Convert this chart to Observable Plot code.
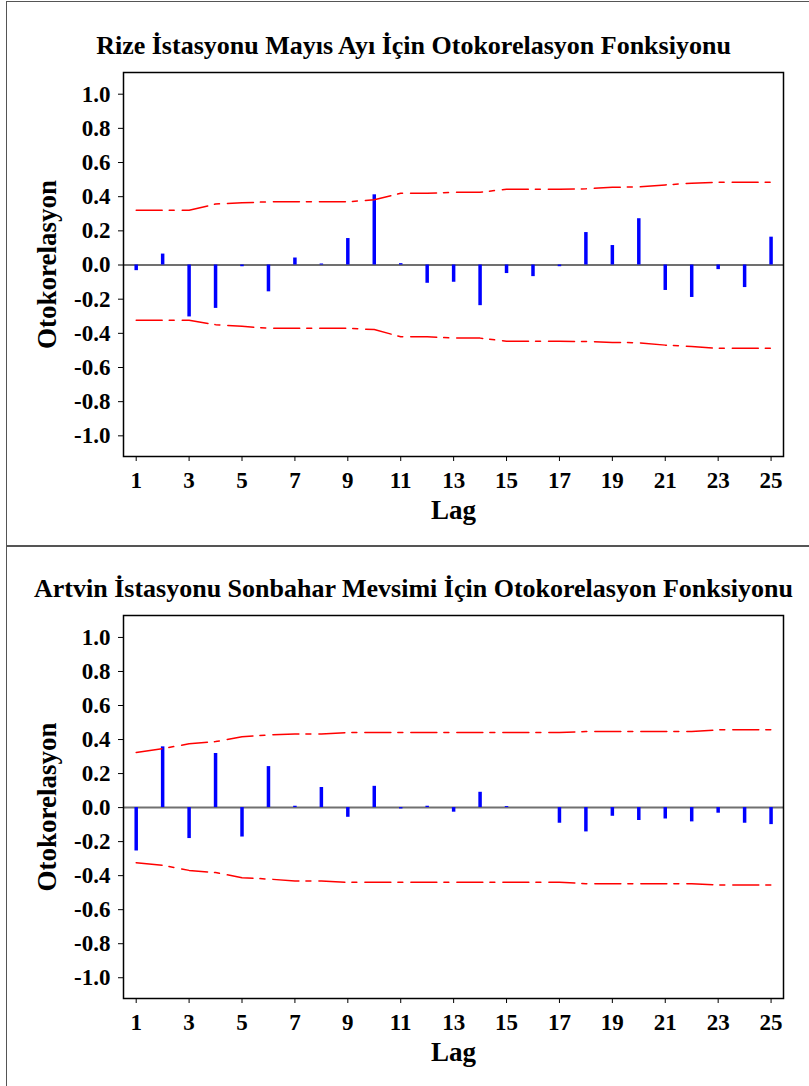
<!DOCTYPE html>
<html>
<head>
<meta charset="utf-8">
<script src="https://cdn.jsdelivr.net/npm/d3@7"></script>
<script src="https://cdn.jsdelivr.net/npm/@observablehq/plot@0.6"></script>
<style>
  html, body { margin: 0; padding: 0; background: #fff; overflow: hidden; }
  #page { position: relative; width: 809px; height: 1086px; }
  .panel { position: absolute; left: 0; width: 809px; }
  .box { position: absolute; border: 1.5px solid #555; pointer-events: none; }
  svg text { font-family: 'Liberation Serif', 'Times New Roman', serif; }
  svg g[aria-label="x-axis tick label"] text,
  svg g[aria-label="y-axis tick label"] text { font-size: 23px !important; font-weight: bold; }
</style>
</head>
<body>
<div id="page">
  <div class="box" style="left:6px; top:1px; width:812px; height:543px;"></div>
  <div class="box" style="left:6px; top:546px; width:812px; height:545px;"></div>
  <div class="panel" id="p1" style="top:2px;"></div>
  <div class="panel" id="p2" style="top:547px;"></div>
</div>
<script>
const lags = [1,2,3,4,5,6,7,8,9,10,11,12,13,14,15,16,17,18,19,20,21,22,23,24,25];
const xTicks = [1,3,5,7,9,11,13,15,17,19,21,23,25];
const yTicks = [-1.0,-0.8,-0.6,-0.4,-0.2,0.0,0.2,0.4,0.6,0.8,1.0];

const rizeTitle = "Rize İstasyonu Mayıs Ayı İçin Otokorelasyon Fonksiyonu";
const rizeAcf = [-0.033, 0.064, -0.304, -0.254, -0.010, -0.157, 0.041, 0.006, 0.155, 0.411, 0.008, -0.107, -0.101, -0.238, -0.050, -0.068, -0.010, 0.190, 0.114, 0.271, -0.149, -0.190, -0.027, -0.132, 0.163];
const rizeUpper = [0.320,0.320,0.320,0.357,0.364,0.370,0.370,0.370,0.370,0.382,0.420,0.420,0.426,0.426,0.444,0.444,0.444,0.446,0.455,0.457,0.469,0.479,0.484,0.484,0.484];
const rizeLower = [-0.324,-0.324,-0.324,-0.349,-0.359,-0.370,-0.370,-0.370,-0.370,-0.378,-0.420,-0.420,-0.428,-0.428,-0.446,-0.446,-0.446,-0.448,-0.453,-0.455,-0.469,-0.477,-0.488,-0.488,-0.488];

const artvinTitle = "Artvin İstasyonu Sonbahar Mevsimi İçin Otokorelasyon Fonksiyonu";
const artvinAcf = [-0.255, 0.357, -0.182, 0.318, -0.173, 0.241, 0.008, 0.118, -0.057, 0.125, -0.008, 0.008, -0.027, 0.090, 0.006, 0.000, -0.092, -0.143, -0.051, -0.076, -0.067, -0.084, -0.033, -0.092, -0.100];
const artvinUpper = [0.324,0.347,0.375,0.388,0.416,0.427,0.433,0.433,0.441,0.441,0.441,0.441,0.441,0.441,0.441,0.441,0.441,0.447,0.447,0.447,0.447,0.447,0.457,0.457,0.457];
const artvinLower = [-0.324,-0.339,-0.369,-0.382,-0.412,-0.420,-0.431,-0.431,-0.439,-0.439,-0.439,-0.439,-0.439,-0.439,-0.439,-0.439,-0.439,-0.447,-0.447,-0.447,-0.447,-0.447,-0.455,-0.455,-0.455];

const yLabel = "Otokorelasyon";
const xLabel = "Lag";

function acfChart({title, acf, upper, lower, height, marginTop, marginBottom, yDomain}) {
  const data = lags.map((lag, i) => ({lag, acf: acf[i], upper: upper[i], lower: lower[i]}));
  const dash = "26,7,5,8";
  return Plot.plot({
    width: 809,
    height,
    marginLeft: 123,
    marginRight: 26,
    marginTop,
    marginBottom,
    style: {
      fontFamily: "'Liberation Serif', 'Times New Roman', serif",
      fontWeight: "bold",
      fontSize: "23px",
      color: "black",
      background: "transparent",
      overflow: "visible"
    },
    x: {domain: [0.52, 25.47], ticks: xTicks, tickFormat: d => String(d), tickSize: 5, tickPadding: 10, label: null},
    y: {domain: yDomain, ticks: yTicks, tickFormat: d => d.toFixed(1).replace("−", "-"), tickSize: 5, tickPadding: 8, label: null},
    marks: [
      Plot.ruleY([0], {stroke: "#707070", strokeWidth: 2}),
      Plot.ruleX(data, {x: "lag", y1: 0, y2: "acf", stroke: "#0000ff", strokeWidth: 3.5}),
      Plot.line(data, {x: "lag", y: "upper", stroke: "#ff0000", strokeWidth: 1.5, strokeDasharray: dash}),
      Plot.line(data, {x: "lag", y: "lower", stroke: "#ff0000", strokeWidth: 1.5, strokeDasharray: dash}),
      Plot.frame({stroke: "black", strokeWidth: 1.5}),
      Plot.text([title], {frameAnchor: "top", textAnchor: "middle", lineAnchor: "middle", text: d => d, dx: -40, dy: -27, fontSize: 26, fontWeight: "bold"}),
      Plot.text([yLabel], {frameAnchor: "left", textAnchor: "middle", lineAnchor: "middle", text: d => d, rotate: -90, dx: -76, fontSize: 27, fontWeight: "bold"}),
      Plot.text([xLabel], {frameAnchor: "bottom", textAnchor: "middle", lineAnchor: "middle", text: d => d, dy: 54, fontSize: 27, fontWeight: "bold"})
    ]
  });
}

document.getElementById("p1").appendChild(acfChart({
  title: rizeTitle, acf: rizeAcf, upper: rizeUpper, lower: rizeLower,
  height: 544, marginTop: 70, marginBottom: 90, yDomain: [-1.121, 1.127]
}));
document.getElementById("p2").appendChild(acfChart({
  title: artvinTitle, acf: artvinAcf, upper: artvinUpper, lower: artvinLower,
  height: 539, marginTop: 68, marginBottom: 88, yDomain: [-1.122, 1.129]
}));
</script>
</body>
</html>
